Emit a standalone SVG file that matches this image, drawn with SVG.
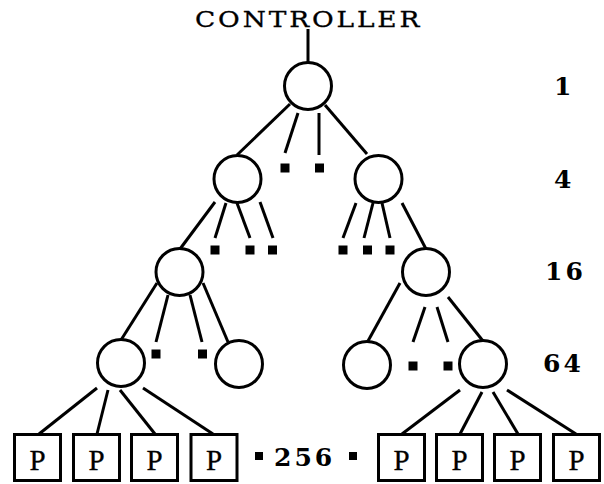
<svg xmlns="http://www.w3.org/2000/svg" width="604" height="484" viewBox="0 0 604 484">
<style>
.n{fill:#fff;stroke:#000;stroke-width:3}
.c line{stroke:#000;stroke-width:3;stroke-linecap:butt}
.d{fill:#000}
.t{font-family:"DejaVu Serif","Liberation Serif",serif;fill:#000;stroke:#000;stroke-width:0.3}
.num{font-family:"DejaVu Serif","Liberation Serif",serif;font-weight:bold;font-size:25px;letter-spacing:3px;fill:#000}
.p{font-family:"Liberation Serif","Times New Roman",serif;font-size:29px;text-anchor:middle;fill:#000;stroke:#000;stroke-width:0.3}
</style>
<rect width="604" height="484" fill="#fff"/>
<g id="controller"><text class="t" transform="translate(195,27) scale(1.15,1)" x="0" y="0" font-size="23" letter-spacing="2.5">CONTROLLER</text></g>
<g id="connectors" class="c">
<line x1="308" y1="29" x2="308" y2="63"/>
<line x1="290" y1="104" x2="237" y2="155"/>
<line x1="298" y1="113" x2="285" y2="153"/>
<line x1="319" y1="113" x2="319" y2="155"/>
<line x1="325" y1="105" x2="367" y2="154"/>
<line x1="215" y1="202" x2="180" y2="249"/>
<line x1="226" y1="203" x2="215" y2="238"/>
<line x1="237" y1="203" x2="250" y2="238"/>
<line x1="260" y1="202" x2="273" y2="238"/>
<line x1="356" y1="203" x2="343" y2="238"/>
<line x1="373" y1="203" x2="364" y2="238"/>
<line x1="382" y1="203" x2="390" y2="238"/>
<line x1="402" y1="203" x2="426" y2="249"/>
<line x1="157" y1="283" x2="121" y2="340"/>
<line x1="168" y1="295" x2="156" y2="342"/>
<line x1="190" y1="295" x2="202" y2="342"/>
<line x1="203" y1="283" x2="228" y2="342"/>
<line x1="400" y1="283" x2="368" y2="341"/>
<line x1="425" y1="307" x2="413" y2="342"/>
<line x1="437" y1="307" x2="448" y2="342"/>
<line x1="448" y1="297" x2="483" y2="341"/>
<line x1="97" y1="388" x2="39" y2="434"/>
<line x1="108" y1="390" x2="97" y2="434"/>
<line x1="120" y1="390" x2="155" y2="434"/>
<line x1="143" y1="388" x2="213" y2="434"/>
<line x1="460" y1="390" x2="402" y2="434"/>
<line x1="482" y1="392" x2="460" y2="434"/>
<line x1="493" y1="392" x2="518" y2="434"/>
<line x1="507" y1="390" x2="576" y2="434"/>
</g>
<g id="ellipsis" class="d">
<rect x="280.5" y="163.5" width="9" height="9"/>
<rect x="315" y="163.5" width="9" height="9"/>
<rect x="210.5" y="245.5" width="9" height="9"/>
<rect x="245.5" y="245.5" width="9" height="9"/>
<rect x="268" y="245.5" width="9" height="9"/>
<rect x="338.5" y="245.5" width="9" height="9"/>
<rect x="363" y="245.5" width="9" height="9"/>
<rect x="385.5" y="245.5" width="9" height="9"/>
<rect x="151.5" y="349.5" width="9" height="9"/>
<rect x="198" y="349.5" width="9" height="9"/>
<rect x="408.5" y="361.5" width="9" height="9"/>
<rect x="443.5" y="361.5" width="9" height="9"/>
<rect x="255" y="452" width="8" height="8"/>
<rect x="349" y="452" width="8" height="8"/>
</g>
<g id="root"><circle class="n" cx="308" cy="86" r="23.5"/></g>
<g id="n1a"><circle class="n" cx="237.5" cy="179" r="23.5"/></g>
<g id="n1b"><circle class="n" cx="378.5" cy="179" r="23.5"/></g>
<g id="n2a"><circle class="n" cx="179.5" cy="272" r="23.5"/></g>
<g id="n2b"><circle class="n" cx="426" cy="272" r="23.5"/></g>
<g id="n3a"><circle class="n" cx="121" cy="363" r="23.5"/></g>
<g id="n3b"><circle class="n" cx="239" cy="364" r="23.5"/></g>
<g id="n3c"><circle class="n" cx="367" cy="365" r="23.5"/></g>
<g id="n3d"><circle class="n" cx="483" cy="364" r="23.5"/></g>
<g id="p1"><rect class="n" x="14.5" y="434.5" width="46" height="46"/><text class="p" x="37.5" y="470">P</text></g>
<g id="p2"><rect class="n" x="73.5" y="434.5" width="46" height="46"/><text class="p" x="96.5" y="470">P</text></g>
<g id="p3"><rect class="n" x="131.5" y="434.5" width="46" height="46"/><text class="p" x="154.5" y="470">P</text></g>
<g id="p4"><rect class="n" x="191" y="434.5" width="46" height="46"/><text class="p" x="214" y="470">P</text></g>
<g id="p5"><rect class="n" x="378.5" y="434.5" width="46" height="46"/><text class="p" x="401.5" y="470">P</text></g>
<g id="p6"><rect class="n" x="436.5" y="434.5" width="46" height="46"/><text class="p" x="459.5" y="470">P</text></g>
<g id="p7"><rect class="n" x="494.5" y="434.5" width="46" height="46"/><text class="p" x="517.5" y="470">P</text></g>
<g id="p8"><rect class="n" x="553.5" y="434.5" width="46" height="46"/><text class="p" x="576.5" y="470">P</text></g>
<g id="labels">
<text class="num" x="554" y="95">1</text>
<text class="num" x="554" y="188">4</text>
<text class="num" x="545" y="280">16</text>
<text class="num" x="543" y="372">64</text>
<text class="num" x="274" y="466" letter-spacing="7.6">256</text>
</g>
</svg>
